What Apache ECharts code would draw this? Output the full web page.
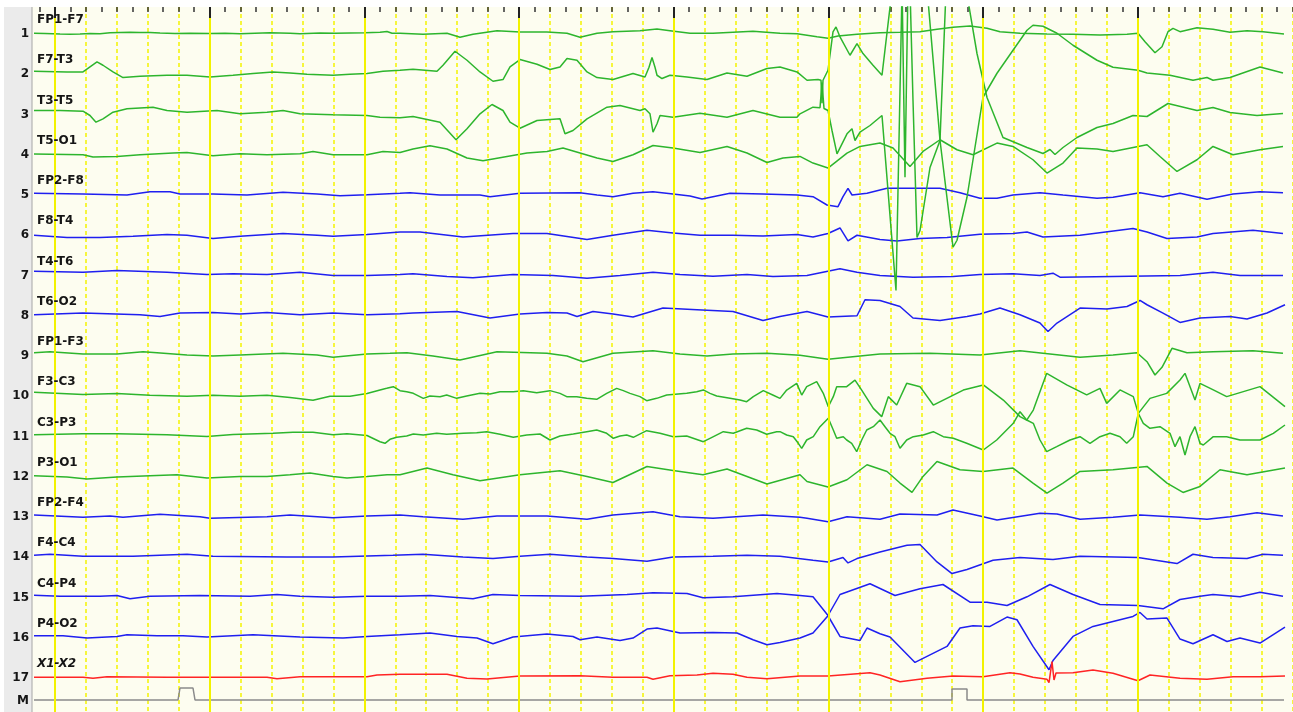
<!DOCTYPE html>
<html><head><meta charset="utf-8">
<script src="https://cdn.jsdelivr.net/npm/echarts@6/dist/echarts.min.js"></script>
<style>html,body{margin:0;padding:0;background:#fff}#c{width:1293px;height:712px}</style>
</head><body><div id="c"></div>
<script>
// Channel montage names (rows 1..17) and marker row
const channelNames = ['FP1-F7','F7-T3','T3-T5','T5-O1','FP2-F8','F8-T4','T4-T6','T6-O2','FP1-F3','F3-C3','C3-P3','P3-O1','FP2-F4','F4-C4','C4-P4','P4-O2','X1-X2'];
const rowNumbers = ['1','2','3','4','5','6','7','8','9','10','11','12','13','14','15','16','17','M'];

// Signals: [sample, amplitude] (amplitude negative-up convention)
const fp1f7 = [[10,0.3],[21,0.5],[36,1],[46,1.3],[56,1],[66,0.5],[76,0.7],[86,-0.2],[96,-0.5],[106,-0.7],[116,-0.4],[126,-0.5],[136,0],[151,0.5],[166,0.3],[186,0.5],[201,0.2],[216,0.8],[231,0.3],[246,-0.2],[266,0.3],[276,0.8],[296,0],[311,0.2],[326,0],[341,-0.2],[356,-0.7],[363,-1.5],[368,0.3],[376,0.3],[399,1.3],[423,0.3],[436,4.3],[449,1.3],[473,-2.3],[496,-1],[523,-1],[543,0.3],[556,4.3],[573,0.3],[589,-1.3],[616,-2.3],[633,-4],[646,-2.3],[666,0.3],[689,0.3],[709,-0.7],[729,-1.7],[749,-0.3],[756,0.3],[773,0.7],[793,3.7],[804,5.3],[814,3],[833,1.3],[856,-0.3],[876,-0.7],[896,-1.3],[913,-3.7],[929,-5.7],[946,-7],[963,-4.7],[976,-1.3],[996,0.3],[1023,1],[1049,1.3],[1076,2],[1103,1.3],[1114,0.3],[1121,8.7],[1131,19.7],[1138,13.7],[1144,-1.3],[1149,-4.7],[1156,-1.3],[1173,-5.3],[1189,-3.7],[1206,-0.7],[1223,-2.3],[1239,-1.3],[1260,1]];
const f7t3 = [[10,-2],[43,-1.3],[59,-1.3],[66,-6.3],[73,-11.3],[79,-8],[89,-1.3],[99,4.3],[116,3],[143,2],[163,2],[186,3.7],[209,2],[229,0.3],[249,-1.3],[266,-0.3],[283,1],[309,2],[326,1],[343,0.3],[359,-2],[376,-3],[389,-4],[413,-2],[419,-8],[431,-22],[443,-13],[456,-1.3],[469,8],[479,6.3],[486,-6.3],[496,-13.7],[513,-9],[526,-3.7],[536,-6.3],[543,-14.7],[553,-13],[563,-1.3],[573,4.3],[589,6.3],[609,0.3],[621,3.7],[625,-6],[628,-15.7],[631,-6],[633,2],[638,5.3],[646,2],[663,3.7],[683,6.3],[703,-0.3],[723,3],[743,-4.7],[756,-6.3],[773,-1.3],[783,7],[794,6.3],[797,7],[798,30],[799,7],[804,-3],[809,-41.3],[812,-46.3],[816,-36.3],[826,-18],[833,-29.7],[839,-19.7],[849,-8],[858,2],[868,-83],[873,-95],[878,-90],[881,104],[884,-90],[896,-100],[903,-85],[916,67],[929,174],[933,167],[943,124],[959,24],[973,0],[989,-23],[1003,-43],[1009,-48],[1019,-47],[1033,-40],[1049,-28],[1073,-13],[1089,-6],[1114,-3],[1123,-0.3],[1146,2],[1169,7],[1183,4.3],[1189,7],[1206,4.3],[1236,-6.3],[1259,-0.3]];
const t3t5 = [[10,-3],[36,-3],[59,-2.3],[66,2],[72,8.7],[79,5.3],[89,-1.3],[103,-4.7],[129,-6.3],[143,-3],[163,-1.3],[193,-3],[216,0.3],[243,-1.3],[259,-3],[276,0.3],[309,1.3],[343,2],[356,3.7],[376,4.3],[389,3],[416,8.7],[432,26.3],[443,15.3],[456,0.3],[468,-9],[479,-3],[486,8.7],[496,14.7],[513,7],[536,5.3],[541,20.3],[549,17],[563,5.3],[583,-6.3],[596,-8],[616,-3],[621,-4.7],[626,0.3],[629,18.7],[633,10.3],[636,2],[649,3.7],[676,-0.3],[703,3.7],[729,-3],[756,3.7],[773,3.7],[776,0.3],[789,-6.3],[796,-5.7],[798,-31],[800,-5],[804,-3],[808,17],[813,40.3],[818,30.3],[823,20.3],[828,15.3],[831,27],[836,18.7],[846,12],[858,2],[872,177],[878,-123],[886,-125],[889,-13],[893,124],[896,117],[906,54],[916,27],[922,-123],[941,-123],[944,-113],[953,-60],[963,-16],[979,24],[1003,34],[1019,40],[1026,36],[1031,41],[1039,34],[1053,24],[1073,14],[1089,10],[1109,2],[1123,3],[1144,-10],[1173,-3],[1189,-6],[1206,-1],[1233,2],[1259,0]];
const t5o1 = [[10,0.3],[59,1],[69,3.3],[93,2.7],[116,1],[149,-0.7],[163,-1.3],[189,2],[216,0],[243,1],[276,0],[289,-2.3],[309,1],[343,1],[359,-2.3],[376,-1.3],[389,-4.7],[406,-8],[423,-4.7],[443,4.3],[459,7],[483,2.7],[503,-0.7],[523,-2.3],[539,-5.7],[556,-0.7],[573,4.3],[589,7.7],[609,1],[629,-8.3],[649,-5.7],[676,-1.3],[703,-7.3],[723,-0.7],[743,8.7],[759,4.3],[776,2.7],[789,9.3],[804,14.3],[823,-0.7],[836,-7.3],[856,-10.7],[869,-5.7],[886,12.7],[899,-2.3],[916,-14],[933,-4],[949,1],[973,-10.7],[989,-7.3],[1009,6],[1023,19.3],[1039,9.3],[1053,-5.7],[1073,-4.7],[1089,-2.3],[1123,-9],[1136,2.7],[1153,17.7],[1173,6],[1189,-7.3],[1209,1],[1236,-4],[1259,-7.3]];
const fp2f8 = [[10,-0.7],[59,0],[103,1],[126,-2.3],[146,-2.3],[156,0],[189,0],[223,1],[259,-1.7],[293,0],[316,1.7],[343,0.7],[376,-0.7],[386,-1.3],[416,1],[456,1],[466,2.7],[496,-0.7],[556,-1.3],[573,1],[589,2.7],[609,-0.7],[629,-2.3],[649,0],[666,2],[678,5],[706,-0.7],[739,0],[773,1],[789,2.7],[803,11],[814,12.7],[819,2.7],[824,-5.7],[828,1],[843,-0.7],[863,-5.7],[916,-5.7],[936,-1.3],[956,4.3],[973,4.3],[989,1],[1016,-1.3],[1039,1],[1073,4.3],[1089,3.3],[1116,-1.3],[1139,2.7],[1156,-0.7],[1183,5.3],[1209,0],[1236,-2.3],[1259,-1.3]];
const f8t4 = [[10,1],[43,3.3],[76,3.3],[109,2],[143,0.3],[163,1],[189,4.3],[216,2],[259,-0.7],[293,1],[309,2],[343,0.3],[376,-2.3],[396,-2.3],[439,2.7],[489,-0.7],[523,-0.7],[563,5.3],[589,1],[623,-4],[649,-1.3],[676,1],[709,1],[739,1.7],[773,0.3],[789,2.7],[804,-0.7],[816,-6.3],[824,6.7],[833,1],[856,5.3],[873,6.7],[896,4.3],[923,3.3],[956,0],[989,-0.7],[1003,-2.3],[1019,2.7],[1056,1],[1109,-5.7],[1123,-2.3],[1143,4.3],[1173,2.7],[1189,-0.7],[1229,-4],[1259,-0.7]];
const t4t6 = [[10,-3.3],[59,-2.3],[93,-4],[143,-2.3],[183,0],[209,-0.7],[243,0],[276,-2.3],[309,1],[343,1],[376,0],[389,-0.7],[423,2],[449,3.3],[489,0],[529,1],[563,3.7],[596,1],[629,-2.3],[656,0],[689,1.7],[723,0],[749,2],[783,1],[816,-5.7],[833,-2.3],[856,1],[889,2.7],[929,2],[956,0],[989,-0.7],[1016,1],[1029,-1.3],[1036,2.7],[1089,2],[1156,1],[1189,-2.3],[1216,1],[1259,1]];
const t6o2 = [[10,0],[59,-1.7],[116,0],[136,1.7],[156,-1.7],[189,-2.3],[216,-0.7],[243,-2.3],[276,0],[309,-1.7],[343,0],[376,-1],[389,-1.7],[433,-3.3],[466,3.3],[496,-0.7],[523,-2.3],[543,-1.7],[553,1.7],[569,-3.3],[589,-0.7],[609,2.3],[639,-6.7],[673,-5],[709,-3.3],[739,5.7],[756,1.7],[783,-3.3],[804,2.3],[833,1],[841,-15],[856,-14.3],[876,-8.3],[889,3.3],[916,5.7],[943,1.7],[956,-0.7],[976,-6.7],[996,0],[1016,8.3],[1024,16.7],[1033,8.3],[1056,-6.7],[1083,-5.7],[1103,-8.3],[1116,-14.3],[1123,-10],[1139,-1.7],[1156,7.7],[1176,3.3],[1206,1.7],[1223,4.3],[1243,-1.7],[1261,-10]];
const fp1f3 = [[10,-2.3],[26,-3.3],[59,-1],[93,-1],[119,-3.3],[133,-2.3],[163,0],[189,1],[216,0],[259,-1.7],[293,0],[309,2.3],[343,-1],[366,-1.7],[383,-2.3],[409,1],[436,5],[473,-3.3],[523,-1.7],[543,1],[559,6.7],[589,-1.7],[629,-4.3],[656,-1],[683,1],[709,-1],[743,-1.7],[776,0.3],[804,4.3],[856,-1],[906,-1.7],[956,0],[996,-4.3],[1056,2.3],[1089,0],[1113,-2.3],[1123,6.7],[1131,20],[1138,12.3],[1148,-6.7],[1163,-2.3],[1189,-3.3],[1229,-4.3],[1259,-1.7]];
const f3c3 = [[10,-3],[59,-0.7],[93,-1.7],[126,0],[163,1],[189,0],[216,1],[243,0],[266,2.3],[289,5],[306,1],[326,1],[343,-1.7],[356,-5.3],[362.7,-6.9],[369.3,-8.6],[376,-4.6],[382.7,-3.6],[389.3,-1.9],[399.3,3.1],[406,0.8],[416,1.4],[422.7,-0.3],[432.7,3.1],[442.7,0.8],[456,-1.9],[466,-1.3],[476,-3.6],[489.3,-3.6],[499.3,-4.6],[512.7,-2.6],[526,-4.6],[536,-1.9],[542.7,1.4],[552.7,1.4],[562.7,3.1],[572.7,4.1],[582.7,-1.9],[592.7,-6.9],[599.3,-4.6],[606,-1.9],[616,1.4],[622.7,5.4],[632.7,3.1],[642.7,-0.3],[662.7,-1.9],[672.7,-3.6],[679.3,-5.3],[686,-1.9],[692.7,0.8],[706,3.1],[716,4.8],[722.7,6.4],[729.3,1.4],[739.3,-4.6],[749.3,0],[756,3.1],[762.7,-5.2],[772.7,-11.9],[777.7,-0.2],[782.7,-8.6],[792.7,-13.6],[799.3,-1.9],[804.3,11.4],[809.3,1.4],[812.7,-8.6],[822.7,-8.6],[831,-15.2],[837.7,-5.2],[849.3,13.1],[857.7,21.4],[864.3,1.4],[872.7,9.8],[882.7,-11.9],[896,-8.6],[909.3,9.8],[919.3,4.8],[939.3,-5.2],[959.3,-10.3],[979.3,4.8],[996,21.4],[1002.7,24.8],[1009.3,14.8],[1022.7,-21.9],[1042.7,-10.3],[1062.7,-0.3],[1076,-6.9],[1082.7,8.1],[1096,-5.3],[1109.3,1.4],[1114.3,18.1],[1126,3.1],[1142.7,-1.9],[1156,-15.3],[1161,-21.9],[1171,4.8],[1176,-11.9],[1189.3,-5.3],[1202.7,1.4],[1236,-8.6],[1261,11.4]];
const c3p3 = [[10,-0.7],[59,-1.7],[93,-1.7],[143,-0.7],[183,1],[209,-1],[249,-2.3],[269,-3.3],[289,-3.3],[309,-0.7],[323,-1.7],[343,0],[356,6.2],[361,7.8],[366,3.8],[372.7,1.8],[382.7,0.5],[389.3,-1.5],[399.3,-0.5],[412.7,-2.2],[422.7,-1.2],[439.3,-2.2],[452.7,-2.8],[462.7,-3.8],[476,-1.2],[489.3,1.8],[502.7,-0.5],[516,-1.5],[526,4.5],[536,0.5],[549.3,-1.5],[562.7,-3.8],[572.7,-5.5],[582.7,-2.2],[589.3,2.8],[596,0.5],[602.7,-0.5],[609.3,1.8],[622.7,-4.8],[636,-2.2],[649.3,1.2],[662.7,0.5],[679.3,6.2],[686,2.8],[699.3,-3.8],[709.3,-2.2],[722.7,-7.2],[732.7,-5.5],[742.7,-1.2],[752.7,-3.8],[756,-3.8],[762.7,-0.5],[769.3,1.2],[774.3,7.8],[777.7,12.8],[782.7,4.5],[789.3,1.2],[796,-8.8],[804.3,-17.2],[809.3,-5.5],[812.7,2.8],[819.3,1.2],[822.7,4.5],[827.7,7.8],[832.7,16.2],[837.7,4.5],[842.7,-5.5],[849.3,-8.8],[856,-15.5],[861,-8.8],[866,-2.2],[871,1.2],[876,12.8],[882.7,4.5],[889.3,1.2],[899.3,-0.5],[909.3,-3.8],[919.3,1.2],[929.3,2.8],[942.7,7.8],[959.3,14.5],[972.7,4.5],[989.3,-12.2],[996,-23.8],[1002.7,-15.5],[1009.3,-12.2],[1016,4.5],[1022.7,16.2],[1032.7,11.2],[1046,4.5],[1056,1.2],[1066,7.8],[1076,1.2],[1086,-2.2],[1096,1.2],[1102.7,7.8],[1109.3,1.2],[1114.3,-22.2],[1119.3,-12.2],[1126,-7.2],[1136,-8.8],[1146,-2.2],[1151,11.2],[1156,1.2],[1161,19.5],[1166,1.2],[1171,-8.8],[1176,7.8],[1179.3,9.5],[1189.3,1.2],[1202.7,1.2],[1216,4.5],[1236,4.5],[1249.3,-2.2],[1261,-10.5]];
const p3o1 = [[10,0],[43,1.3],[63,3.3],[93,1.3],[126,0],[153,-1],[183,2.3],[216,0.7],[243,0.7],[266,-1],[286,-2.7],[309,0.7],[323,2.3],[343,0.7],[363,-1],[376,-1],[403,-7.7],[429,-1],[456,5],[496,-1],[536,-5],[563,0.7],[589,6.7],[623,-9.3],[649,-5.3],[679,-1],[703,-6.7],[723,0.7],[743,8.3],[776,-1],[783,5.7],[804,11.3],[823,4],[843,-11],[863,-4.3],[876,7.3],[888,16.7],[899,0.7],[913,-14.3],[936,-6],[959,-4.3],[989,-7.7],[1009,7.3],[1023,17.3],[1039,7.3],[1056,-4.3],[1089,-6],[1123,-9.3],[1143,7.3],[1159,16.7],[1176,10.7],[1196,-6],[1223,-1],[1261,-7.7]];
const fp2f4 = [[10,-1],[59,1.3],[86,0],[99,1.3],[136,-1.7],[176,0.7],[186,2.3],[243,0.7],[266,-1],[309,1.7],[343,0],[376,-1],[399,0.7],[439,3.3],[473,0],[523,0],[563,3.3],[589,-1],[629,-4.3],[656,0.7],[689,2.3],[739,-1],[776,1.3],[783,2.3],[804,5.7],[823,0.7],[856,3.3],[876,-2],[913,-1],[929,-6],[956,0],[973,4],[1016,-2.7],[1033,-2],[1056,3.3],[1089,1.3],[1116,-1],[1156,1.3],[1183,3.3],[1206,0.7],[1233,-3.3],[1259,0]];
const f4c4 = [[10,-1],[26,-2],[59,0],[109,0],[163,-2],[189,0],[263,0.7],[309,0.7],[369,-1],[399,-2],[439,0.7],[469,2.3],[496,0],[526,-2],[563,0.7],[589,2.3],[623,5],[649,0.7],[689,0],[723,-1],[756,0],[789,4],[804,5.7],[819,1.3],[824,6.7],[833,2.3],[856,-4.3],[883,-11],[896,-11.7],[913,5.7],[928,17.3],[943,13.3],[969,4],[996,1.3],[1029,3.3],[1056,0],[1114,1.3],[1143,5.7],[1153,7.3],[1169,-2],[1189,1.3],[1223,2.3],[1239,-2],[1259,-1]];
const c4p4 = [[10,-1.3],[36,-0.3],[76,-0.3],[93,-1],[106,2.3],[126,-0.3],[176,-1],[226,-0.3],[253,-2],[276,-0.3],[309,0.7],[343,-0.3],[376,-0.3],[406,-1],[449,2.3],[469,-2],[496,-1],[556,-0.3],[603,-2],[629,-3.7],[663,-3],[679,1.3],[709,0.3],[753,-3],[776,-1],[789,0.3],[804,19],[816,-2],[846,-12.7],[871,-1],[896,-7.7],[919,-12],[946,5.7],[963,5.7],[983,9],[1003,0.3],[1026,-12],[1049,-2],[1076,8],[1114,9],[1139,12.3],[1156,3],[1176,-0.3],[1189,-2],[1216,0.3],[1236,-4.3],[1259,-0.3]];
const p4o2 = [[10,-1],[39,-1],[63,1.3],[93,-0.3],[103,-2],[133,-1],[159,-1],[183,0.3],[229,-2],[276,0.3],[319,1.3],[343,-0.3],[376,-2],[406,-3.7],[433,-0.3],[453,1.3],[469,7],[489,0.3],[523,-2.7],[549,-0.3],[556,3],[573,0.3],[596,3.7],[609,1.3],[623,-7.7],[633,-8.7],[656,-3.7],[689,-4.3],[713,-3.7],[729,3],[743,8],[756,5.7],[776,1.3],[789,-3.7],[804,-21],[816,-0.3],[836,3.7],[843,-8.7],[856,-3],[866,0.3],[891,25.7],[903,19.7],[923,9.7],[936,-8.7],[949,-11],[966,-10.3],[983,-19.7],[993,-17],[1009,9.7],[1025,33],[1029,23.7],[1049,-0.3],[1069,-10.3],[1089,-15.3],[1109,-20.3],[1116,-24.3],[1123,-17.7],[1143,-18.7],[1156,2.3],[1169,7],[1189,-2],[1203,4.7],[1216,1.3],[1236,6.3],[1261,-9.7]];
const x1x2 = [[10,0.3],[59,0.3],[69,1.3],[83,-0.3],[143,0.3],[209,0.3],[243,0.3],[253,1.7],[276,-0.3],[343,-0.3],[353,-2],[376,-2.7],[423,-2.7],[443,1.3],[463,2],[496,-1],[556,-1.3],[589,0.3],[623,0.3],[629,2.3],[646,-1.3],[673,-2],[689,-3.7],[709,-2.7],[723,0.3],[743,1.7],[776,-1],[804,-1],[846,-4.3],[856,-2],[876,4.7],[903,1.3],[929,-1],[959,-0.3],[986,-4.3],[996,-3],[1009,0.3],[1023,2.3],[1025,5.7],[1028,-15.3],[1030,3],[1032,-4],[1034,-2.5],[1049,-4.3],[1069,-7],[1089,-3.7],[1114,3.7],[1126,-2],[1156,1.3],[1183,2.3],[1209,-0.3],[1236,-0.3],[1261,-1]];
const markerM = [[10,0],[154,0],[156,-12],[169,-12],[171,0],[928,0],[928,-11],[943,-11],[943,0],[1260,0]];

const channels = [fp1f7,f7t3,t3t5,t5o1,fp2f8,f8t4,t4t6,t6o2,fp1f3,f3c3,c3p3,p3o1,fp2f4,f4c4,c4p4,p4o2,x1x2];

// time base: samples per second and first full-second sample
const SAMPLES_PER_SEC = 154.7;
const FIRST_SEC = 30.94;
const SECONDS = [0,1,2,3,4,5,6,7];

// layout / style
const GREEN = '#2db52d', BLUE = '#1f1ff0', RED = '#ff2424';
const colors = [GREEN,GREEN,GREEN,GREEN,BLUE,BLUE,BLUE,BLUE,GREEN,GREEN,GREEN,GREEN,BLUE,BLUE,BLUE,BLUE,RED];
const ROW0 = 33, ROWGAP = 40.25, MROW = 700, TOP = 7;
const XMAX = 41 * 30.94;

const chart = echarts.init(document.getElementById('c'), null, {renderer:'canvas'});

const series = channels.map((d, i) => ({
  type: 'line', name: channelNames[i], symbol: 'none', silent: true, animation: false,
  clip: true, z: (i === 1 || i === 2) ? 4 : 3,
  lineStyle: {width: 1.5, color: colors[i]},
  data: d.map(p => [p[0], ROW0 + ROWGAP * i + p[1]])
}));

const secLines = SECONDS.map(s => ({xAxis: FIRST_SEC + s * SAMPLES_PER_SEC}));
const majorTicks = SECONDS.map(s => [{coord: [FIRST_SEC + s * SAMPLES_PER_SEC, TOP]}, {coord: [FIRST_SEC + s * SAMPLES_PER_SEC, TOP + 11]}]);

series.push({
  type: 'line', name: 'M', symbol: 'none', silent: true, animation: false, z: 2,
  lineStyle: {width: 1.5, color: '#8a8a8a'},
  data: markerM.map(p => [p[0], MROW + p[1]]),
  markLine: {
    silent: true, symbol: 'none', animation: false,
    label: {show: false},
    lineStyle: {color: '#f2f200', width: 2, type: 'solid'},
    data: secLines
  }
});
series.push({
  type: 'line', name: 'ticks', symbol: 'none', silent: true, animation: false, z: 5,
  data: [],
  markLine: {
    silent: true, symbol: 'none', animation: false,
    label: {show: false},
    lineStyle: {color: '#222', width: 2, type: 'solid'},
    data: majorTicks
  }
});

chart.setOption({
  animation: false,
  backgroundColor: '#ffffff',
  grid: {left: 24, width: XMAX, top: TOP, bottom: 0, show: true, backgroundColor: '#fdfdf0', borderWidth: 0},
  xAxis: [
    {type: 'value', min: 0, max: XMAX, interval: 30.94,
     axisLine: {show: false}, axisTick: {show: false}, axisLabel: {show: false},
     splitLine: {show: true, lineStyle: {color: '#f4f400', width: 1.5, type: [4, 3]}}},
    {type: 'value', position: 'top', min: 0, max: XMAX, interval: 15.47,
     axisLine: {show: false}, axisLabel: {show: false}, splitLine: {show: false},
     axisTick: {show: true, inside: true, length: 5, lineStyle: {color: '#333', width: 1.5}}}
  ],
  yAxis: {type: 'value', inverse: true, min: TOP, max: 712, show: false, splitLine: {show: false}},
  series: series
});

// labels positioned through the chart's own scales
const FONT = 'bold 12px "DejaVu Sans"';
const graphics = [
  {type: 'rect', z: 100, silent: true, shape: {x: 4, y: TOP, width: 28, height: 712 - TOP}, style: {fill: '#ebebeb'}},
  {type: 'line', z: 101, silent: true, shape: {x1: 32, y1: TOP, x2: 32, y2: 712}, style: {stroke: '#a6a6a6', lineWidth: 1}}
];
rowNumbers.forEach((t, i) => {
  const yv = i < 17 ? ROW0 + ROWGAP * i : MROW;
  const p = chart.convertToPixel({gridIndex: 0}, [0, yv]);
  graphics.push({type: 'text', z: 102, silent: true, style: {text: t, x: 29, y: p[1] + 1, font: FONT, fill: '#151515', align: 'right', verticalAlign: 'middle'}});
});
channelNames.forEach((t, i) => {
  const p = chart.convertToPixel({gridIndex: 0}, [13, ROW0 + ROWGAP * i - 13]);
  graphics.push({type: 'text', z: 102, silent: true, style: {text: t, x: p[0], y: p[1], font: i === 16 ? 'italic ' + FONT : FONT, fill: '#151515', align: 'left', verticalAlign: 'middle'}});
});
chart.setOption({graphic: graphics});
</script>
</body></html>
